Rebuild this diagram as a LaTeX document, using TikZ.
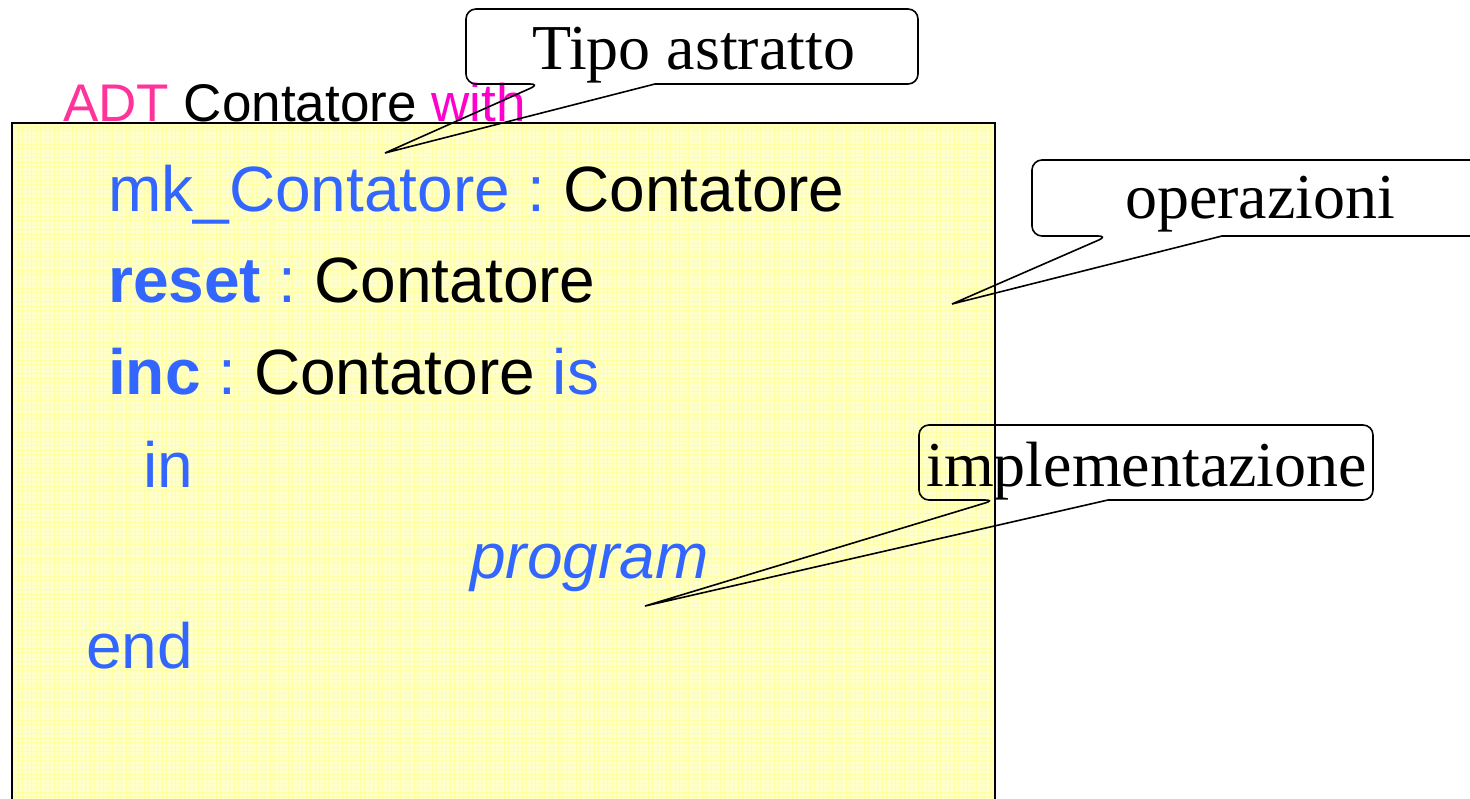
\documentclass[tikz,border=0pt]{standalone}
\usepackage{fontspec}
\setmainfont{Liberation Serif}
\newfontfamily\codefont{Liberation Sans}
\definecolor{kwblue}{HTML}{3366FF}
\definecolor{adtpink}{HTML}{FF3399}
\definecolor{withmag}{HTML}{FF00CC}
\definecolor{padfill}{HTML}{FFFFCC}
\definecolor{padgrid}{HTML}{FFFFA8}
\frenchspacing
\begin{document}
\begin{tikzpicture}[x=1pt,y=-1pt,
  code/.style={font=\codefont\fontsize{64}{64}\selectfont, inner sep=0pt, anchor=base west},
  head/.style={font=\codefont\fontsize{53}{53}\selectfont, inner sep=0pt, anchor=base west},
  note/.style={font=\fontsize{64}{64}\selectfont, inner sep=0pt, anchor=base west},
  callout/.style={draw=black, line width=1.6pt, line join=miter}]
\useasboundingbox (0,0) rectangle (1470,799);
\begin{scope}
  \clip (0,0) rectangle (1470,799);
  % yellow pad with its fine grid
  \fill[padfill] (12,123) rectangle (995,830);
  \draw[padgrid, line width=0.3pt, step=4.5pt] (12,123) grid (995,830);
  \draw[line width=2pt] (12,830) -- (12,123) -- (995,123) -- (995,830);

  % header line
  \node[head] (hdr) at (63,122) {\textcolor{adtpink}{ADT} Contatore \textcolor{withmag}{with}};

  % body of the ADT
  \node[code] (l1) at (108,212) {\textcolor{kwblue}{mk\_Contatore :} Contatore};
  \node[code] (l2) at (108,303) {\textcolor{kwblue}{\textbf{reset} :} Contatore};
  \node[code] (l3) at (108,395) {\textcolor{kwblue}{\textbf{inc} :} Contatore \textcolor{kwblue}{is}};
  \node[code] (l4) at (143,487) {\textcolor{kwblue}{in}};
  \node[code] (l5) at (470,578) {\textcolor{kwblue}{\itshape program}};
  \node[code] (l6) at (86,668) {\textcolor{kwblue}{end}};

  % callout tips
  \coordinate (tipA) at (385,153);
  \coordinate (tipB) at (952,304);
  \coordinate (tipC) at (645,606);

  % callout: Tipo astratto
  \draw[callout] {[rounded corners=10pt] (655,84) -- (918,84) -- (918,9) -- (466,9) -- (466,84) -- (540,84)} -- (tipA) -- cycle;
  \node[note] (nA) at (532,70) {Tipo astratto};

  % callout: operazioni
  \draw[callout] {[rounded corners=10pt] (1222,236) -- (1500,236) -- (1500,160) -- (1032,160) -- (1032,236) -- (1108,236)} -- (tipB) -- cycle;
  \node[note] (nB) at (1125,219) {operazioni};

  % callout: implementazione
  \draw[callout] {[rounded corners=10pt] (1108,500) -- (1373,500) -- (1373,425) -- (919,425) -- (919,500) -- (995,500)} -- (tipC) -- cycle;
  \node[note] (nC) at (926,486) {implementazione};
\end{scope}
\end{tikzpicture}
\end{document}
